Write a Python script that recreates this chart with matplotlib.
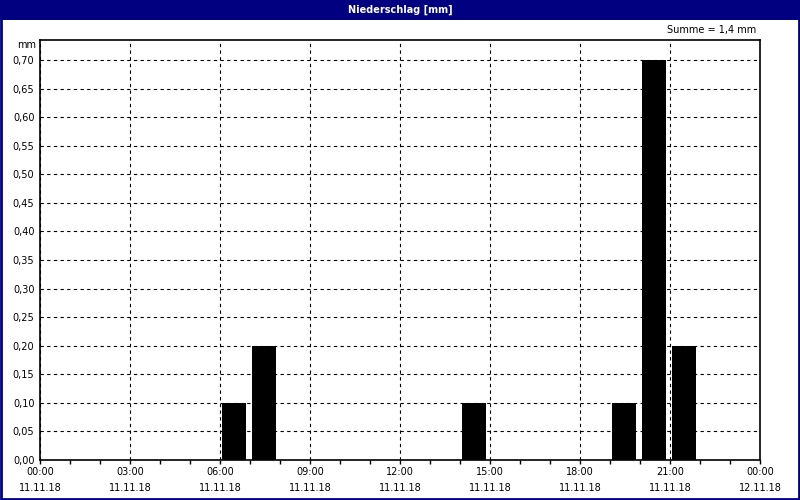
import numpy as np
import matplotlib
matplotlib.use("Agg")
from matplotlib import pyplot as plt
from matplotlib.patches import Rectangle
from matplotlib.ticker import FuncFormatter, MultipleLocator

# hourly precipitation, 11.11.18 (hour of day -> mm)
hours = [6, 7, 14, 19, 20, 21]
precip = [0.10, 0.20, 0.10, 0.10, 0.70, 0.20]
tick_hours = [0, 3, 6, 9, 12, 15, 18, 21, 24]
tick_times = ["00:00", "03:00", "06:00", "09:00", "12:00", "15:00", "18:00", "21:00", "00:00"]
tick_dates = ["11.11.18"] * 8 + ["12.11.18"]
y_ticks = [0.00, 0.05, 0.10, 0.15, 0.20, 0.25, 0.30, 0.35, 0.40, 0.45, 0.50, 0.55, 0.60, 0.65, 0.70]
title = "Niederschlag [mm]"
navy = "#000080"

fig = plt.figure(figsize=(8, 5), dpi=100)
ax = fig.add_axes([0.05, 0.08, 0.90, 0.84])

ax.bar(np.array(hours) + 0.47, precip, width=0.8, color="black", zorder=3)

ax.set_xlim(0, 24)
ax.set_ylim(0, 0.735)
ax.set_xticks(tick_hours)
ax.set_xticklabels([f"{t}\n{d}" for t, d in zip(tick_times, tick_dates)],
                   fontsize=7, linespacing=1.75)
ax.xaxis.set_minor_locator(MultipleLocator(1))
ax.tick_params(axis="x", which="both", direction="out", length=3, width=1, pad=2)
ax.set_yticks(y_ticks)
ax.yaxis.set_major_formatter(FuncFormatter(lambda v, p: f"{v:.2f}".replace(".", ",")))
ax.tick_params(axis="y", length=0, labelsize=7, pad=4)

ax.grid(True, color="black", linestyle=(0, (3, 3)), linewidth=0.8, zorder=1)
for s in ax.spines.values():
    s.set_linewidth(1.2)
    s.set_color("black")

# header bar, frame and annotations
fig.patches.append(Rectangle((0, 0.96), 1, 0.04, transform=fig.transFigure,
                             facecolor=navy, edgecolor="none", zorder=0))
fig.patches.append(Rectangle((0.001, 0.002), 0.998, 0.996, transform=fig.transFigure,
                             facecolor="none", edgecolor=navy, linewidth=2, zorder=5))
fig.text(0.5, 0.981, title, color="white", fontsize=7, fontweight="bold",
         ha="center", va="center")
fig.text(0.045, 0.91, "mm", fontsize=7, ha="right", va="center")
fig.text(0.945, 0.939, "Summe = 1,4 mm", fontsize=7, ha="right", va="center")

fig.savefig("out.png", dpi=100)
